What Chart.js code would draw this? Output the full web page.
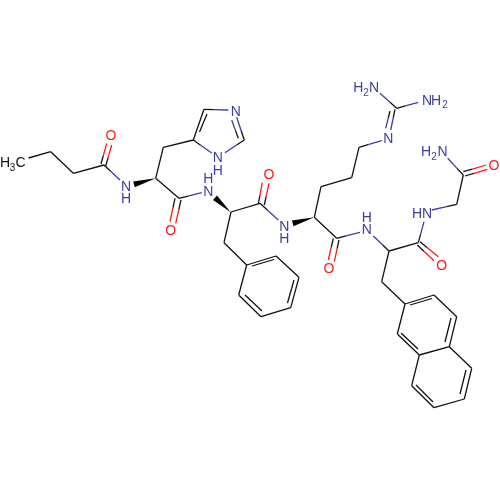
<!DOCTYPE html>
<html>
<head>
<meta charset="utf-8">
<style>
  html, body { margin: 0; padding: 0; background: #fff; }
  #wrap { width: 500px; height: 500px; }
</style>
<script src="https://cdn.jsdelivr.net/npm/chart.js@4"></script>
</head>
<body>
<div id="wrap"><canvas id="mol"></canvas></div>
<script>
// bonds between carbons: x1, y1, x2, y2
const carbonBonds = [
  [28.5,158,50.7,151.7], [50.7,151.7,73.3,173.3], [73.3,173.3,104,165],
  [155.7,178.3,163.3,147.3], [163.3,147.3,193.3,140], [193.3,140,204,109.3], [199.5,132,207,114],
  [155.7,178.3,179,198.3],
  [231,212,260,203.3], [231,212,224,242.7], [224,242.7,246.7,265],
  [246.7,265,276,256], [276,256,299,277.3], [299,277.3,290.7,307.7], [290.7,307.7,261,316.7], [261,316.7,238.7,295], [238.7,295,246.7,265],
  [252,266,274,259.5], [294,280,287.5,303], [262,311,245,295],
  [314.3,217.3,321,186.7], [321,186.7,351.7,177.7], [351.7,177.7,359,147.3],
  [314.3,217.3,336.7,238.3], [389,251,418.3,242.7], [389,251,381.7,281.7], [381.7,281.7,405,304],
  [456.7,204.3,463.3,175],
  [405,304,434,295], [434,295,456.7,316.7], [456.7,316.7,449.3,346.7], [449.3,346.7,419.3,355], [419.3,355,397.3,334], [397.3,334,405,304],
  [410,305,432,298.5], [451,318,445,342], [418,349,401,333],
  [449.3,346.7,471.7,368.3], [471.7,368.3,464.3,399], [464.3,399,434,407.7], [434,407.7,411.7,385.7], [411.7,385.7,419.3,355],
  [466,370,460,394], [433,402,416,385]
];

// bonds that end on a nitrogen: the first end is the carbon
const nitrogenBonds = [
  [104,165,120,180], [193.3,140,211.7,153], [204,109.3,228.3,110],
  [244.3,140,225,152.7], [244.3,140,236.7,117.3], [238.3,138.3,231.7,120],
  [179,198.3,201.7,192.7], [260,203.3,278.3,220], [336.7,238.3,360,232.3],
  [389,251,373.3,236], [359,147.3,381.7,140.7],
  [396.7,108.3,418.3,102.3], [396.7,108.3,380,93.3],
  [395,109.3,390.7,130], [390,111,385.7,128.3],
  [418.3,242.7,424,221.7], [456.7,204.3,431.7,210], [463.3,175,447.7,158.3]
];

// bonds that end on an oxygen, drawn double
const oxygenBonds = [
  [101,164,106.7,143.3], [105.7,166,111.7,145],
  [175,198.3,170,221.7], [181,200,175.7,223.3],
  [258.3,204,262.3,182.7], [264.3,205,269,183.3],
  [333.3,238.3,328.3,260], [339,240,334.3,261.7],
  [420,241.7,438.3,256.7], [417.3,245,434,260.7],
  [463.3,171.7,486,165], [465,176,487.3,169.3]
];

// wedges: tip x, tip y, base x, base y
const wedgeBonds = [
  [155.7,178.3,134,184.3],
  [230.7,212.3,215,197.7],
  [314.3,217.3,292.7,223.3]
];

const carbonLabels = [["H",5,163.5], ["C",20.5,163.5]];
const carbonSubs = [["3",12.5,168.5]];
const nitrogenLabels = [
  ["N",126,187.5], ["H",126,199.5], ["N",217.7,158.5], ["H",217.7,171], ["N",235.7,112],
  ["N",208.3,192], ["H",208.3,179.5], ["N",284.3,227], ["H",284.3,239.5],
  ["N",366.7,230.5], ["H",366.7,218.5], ["N",388.3,139.5],
  ["H",358.3,88], ["N",374,88], ["N",427,101], ["H",436,101],
  ["H",417,214], ["N",427,214], ["H",426,152.5], ["N",442.5,152.5]
];
const nitrogenSubs = [["2",366,93], ["2",445,105.5], ["2",434,157.5]];
const oxygenLabels = [["O",111,136], ["O",170.7,231], ["O",269,175.5], ["O",329,269.5], ["O",441.7,266], ["O",494,166.5]];

const BLACK = '#111111', BLUE = '#3d3da6', RED = '#ff1a1a';

// colour changes part way along a hetero bond
const SPLIT = 0.4;

function toPoints(bonds) {
  const pts = [];
  bonds.forEach(b => { pts.push({x: b[0], y: b[1]}, {x: b[2], y: b[3]}, {x: null, y: null}); });
  return pts;
}
function nearHalf(bonds) {
  return bonds.map(b => [b[0], b[1], b[0] + (b[2] - b[0]) * SPLIT, b[1] + (b[3] - b[1]) * SPLIT]);
}
function farHalf(bonds) {
  return bonds.map(b => [b[0] + (b[2] - b[0]) * SPLIT, b[1] + (b[3] - b[1]) * SPLIT, b[2], b[3]]);
}
function lineSet(bonds, color) {
  return { data: toPoints(bonds), borderColor: color, borderWidth: 1.3, showLine: true, spanGaps: false, pointRadius: 0 };
}

const moleculeText = {
  id: 'moleculeText',
  afterDatasetsDraw(chart) {
    const { ctx, scales: { x, y } } = chart;
    ctx.save();
    ctx.fillStyle = '#000';
    wedgeBonds.forEach(w => {
      const tx = x.getPixelForValue(w[0]), ty = y.getPixelForValue(w[1]);
      const bx = x.getPixelForValue(w[2]), by = y.getPixelForValue(w[3]);
      const len = Math.hypot(bx - tx, by - ty);
      const nx = -(by - ty) / len * 3, ny = (bx - tx) / len * 3;
      ctx.beginPath();
      ctx.moveTo(tx, ty);
      ctx.lineTo(bx + nx, by + ny);
      ctx.lineTo(bx - nx, by - ny);
      ctx.closePath();
      ctx.fill();
    });
    ctx.textAlign = 'center';
    ctx.textBaseline = 'middle';
    const put = (list, color, font) => {
      ctx.fillStyle = color;
      ctx.font = font;
      list.forEach(l => ctx.fillText(l[0], x.getPixelForValue(l[1]), y.getPixelForValue(l[2])));
    };
    const big = '14px "Liberation Sans"', small = '10px "Liberation Sans"';
    put(carbonLabels, BLACK, big);
    put(carbonSubs, BLACK, small);
    put(nitrogenLabels, BLUE, big);
    put(nitrogenSubs, BLUE, small);
    put(oxygenLabels, RED, big);
    ctx.restore();
  }
};

new Chart(document.getElementById('mol'), {
  type: 'scatter',
  data: {
    datasets: [
      lineSet(carbonBonds, BLACK),
      lineSet(nearHalf(nitrogenBonds), BLACK),
      lineSet(farHalf(nitrogenBonds), BLUE),
      lineSet(nearHalf(oxygenBonds), BLACK),
      lineSet(farHalf(oxygenBonds), RED)
    ]
  },
  options: {
    responsive: true,
    maintainAspectRatio: false,
    animation: false,
    layout: { padding: 0 },
    plugins: { legend: { display: false }, tooltip: { enabled: false }, title: { display: false } },
    scales: {
      x: { type: 'linear', display: false, min: 0, max: 500 },
      y: { type: 'linear', display: false, min: 0, max: 500, reverse: true }
    }
  },
  plugins: [moleculeText]
});
</script>
</body>
</html>
